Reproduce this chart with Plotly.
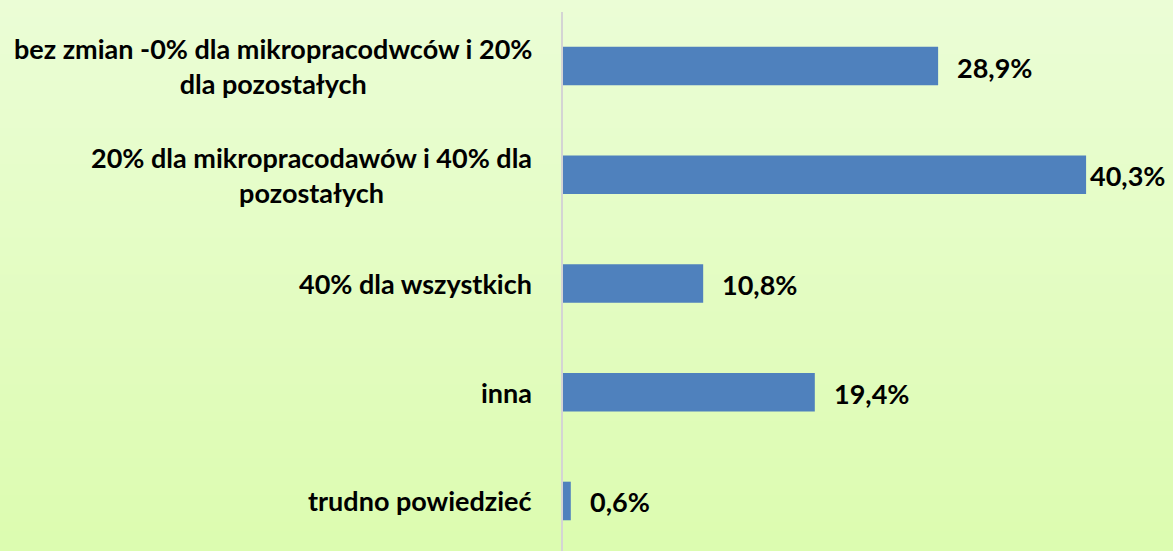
import plotly.graph_objects as go

categories = [
    "bez zmian -0% dla mikropracodwców i 20%<br>dla pozostałych",
    "20% dla mikropracodawów i 40% dla<br>pozostałych",
    "40% dla wszystkich",
    "inna",
    "trudno powiedzieć",
]
values = [28.9, 40.3, 10.8, 19.4, 0.6]
value_labels = ["28,9%", "40,3%", "10,8%", "19,4%", "0,6%"]

W, H = 1173, 551
L, R, T, B = 563, 0, 12, 0
FONT = "Lato"
BAR = "#4F81BD"

pos = list(range(len(categories)))

fig = go.Figure()
fig.add_trace(go.Bar(
    x=values, y=pos, orientation="h",
    marker=dict(color=BAR, line=dict(width=0)),
    hoverinfo="skip",
))

# gradient background
top_rgb = (235, 253, 214)
bot_rgb = (220, 252, 176)
n = 60
plot_h = H - T - B
y_top = (H - B) / plot_h
y_bot = -B / plot_h
shapes = []
for i in range(n):
    f = i / (n - 1)
    c = tuple(round(top_rgb[k] + (bot_rgb[k] - top_rgb[k]) * f) for k in range(3))
    y1 = y_top - (y_top - y_bot) * i / n
    y0 = y_top - (y_top - y_bot) * (i + 1) / n
    shapes.append(dict(type="rect", xref="paper", yref="paper",
                       x0=-2, x1=2, y0=y0 - 0.002, y1=y1 + 0.002,
                       fillcolor="rgb(%d,%d,%d)" % c, line=dict(width=0),
                       layer="below"))

annotations = []
for p, c in zip(pos, categories):
    annotations.append(dict(
        x=0, y=p, xref="x domain", yref="y", text=c,
        xanchor="right", yanchor="middle", xshift=-29, align="center",
        showarrow=False, font=dict(family=FONT, size=27, color="black", weight="bold"),
    ))
vmax = max(values)
for p, v, t in zip(pos, values, value_labels):
    annotations.append(dict(
        x=v, y=p, xref="x", yref="y", text=t,
        xanchor="left", yanchor="middle", xshift=(2 if v == vmax else 17), yshift=-1,
        showarrow=False, font=dict(family=FONT, size=27, color="black", weight="bold"),
    ))

fig.update_layout(
    width=W, height=H,
    margin=dict(l=L, r=R, t=T, b=B, pad=0),
    paper_bgcolor="rgb(235,253,214)",
    plot_bgcolor="rgba(0,0,0,0)",
    bargap=0.645,
    showlegend=False,
    shapes=shapes,
    annotations=annotations,
    xaxis=dict(range=[0, (W - L - R) / 12.98], showgrid=False, zeroline=False,
               showticklabels=False, ticks="", showline=False),
    yaxis=dict(range=[4.46, -0.497], showgrid=False, zeroline=False,
               showticklabels=False, ticks="", showline=True,
               linecolor="#D4D4D4", linewidth=1.5),
)

fig.write_html("out.html", config={"displayModeBar": False},
               post_script="document.body.style.margin='0';document.body.style.overflow='hidden';")
